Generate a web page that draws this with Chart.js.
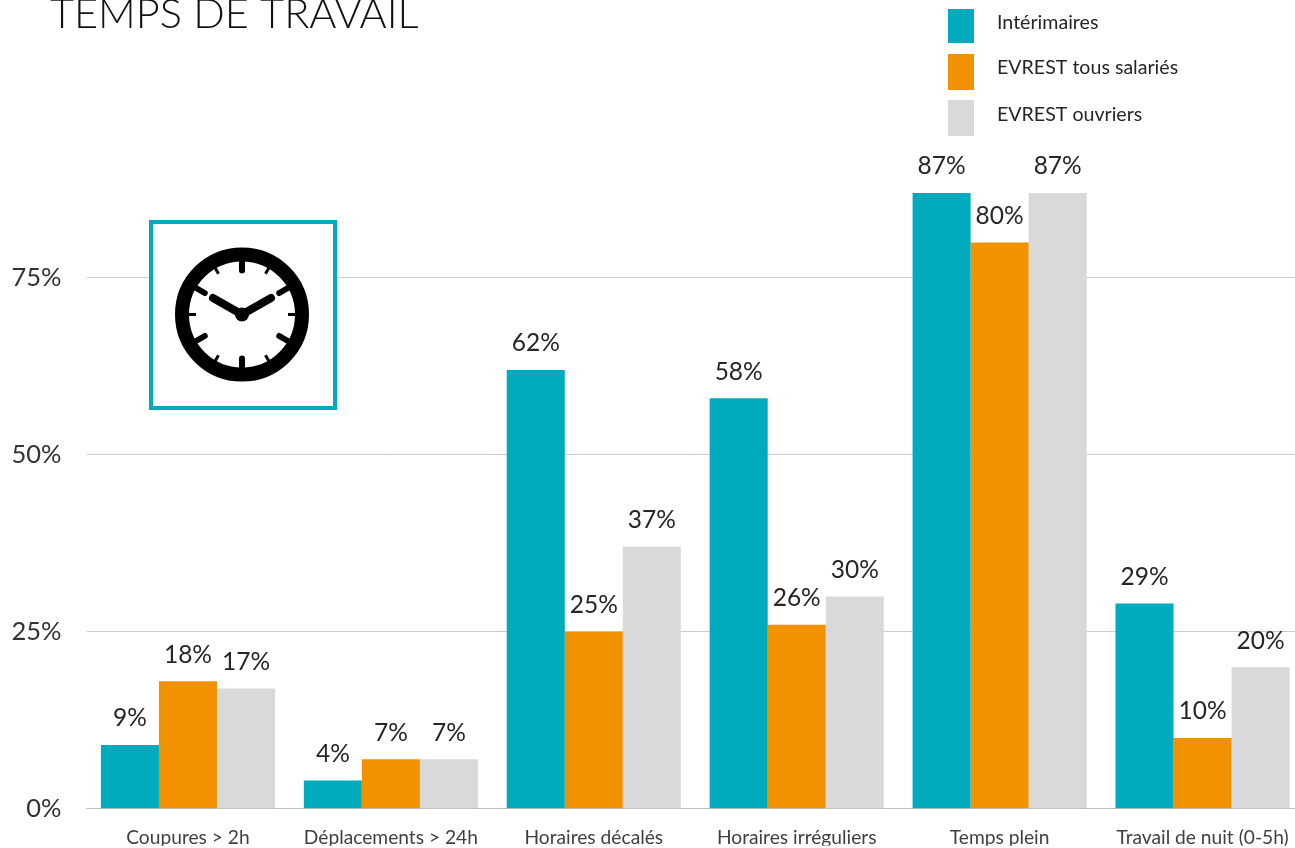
<!DOCTYPE html>
<html lang="fr">
<head>
<meta charset="utf-8">
<title>Temps de travail</title>
<style>
html,body{margin:0;padding:0;background:#fff;overflow:hidden;width:1295px;height:848px}
canvas{display:block}
</style>
<script src="https://cdn.jsdelivr.net/npm/chart.js@4"></script>
</head>
<body>
<canvas id="c" width="1320" height="849"></canvas>
<script>
const titleText = "TEMPS DE TRAVAIL";
const categories = ["Coupures > 2h","Déplacements > 24h","Horaires décalés","Horaires irréguliers","Temps plein","Travail de nuit (0-5h)"];
const interimaires = [9,4,62,58,87,29];
const evrestTous = [18,7,25,26,80,10];
const evrestOuvriers = [17,7,37,30,87,20];
const yTicks = [0,25,50,75];
const FONT = "Lato, 'Open Sans', sans-serif";

const overlay = {
  id:'overlay',
  afterDatasetsDraw(chart){
    const ctx = chart.ctx;
    // data labels
    ctx.save();
    ctx.font = "24.5px "+FONT;
    ctx.fillStyle = "#262626";
    ctx.textAlign = "center";
    ctx.textBaseline = "middle";
    chart.data.datasets.forEach((ds,i)=>{
      chart.getDatasetMeta(i).data.forEach((bar,j)=>{
        ctx.fillText(ds.data[j]+"%", bar.x, bar.y-26.5);
      });
    });
    ctx.restore();

    // title, cropped by the top of the page as in the reference
    ctx.save();
    ctx.font = "300 41.5px "+FONT;
    ctx.fillStyle = "#111111";
    ctx.textAlign = "left";
    ctx.textBaseline = "alphabetic";
    ctx.fillText(titleText, 50, 28);
    ctx.restore();

    // legend
    const boxes = [[9,34],[54,36],[100,36]];
    const textShift = [-3.5,-4,-3.5];
    ctx.save();
    ctx.font = "19.6px "+FONT;
    ctx.textAlign = "left";
    ctx.textBaseline = "middle";
    chart.data.datasets.forEach((ds,i)=>{
      ctx.fillStyle = ds.backgroundColor;
      ctx.fillRect(948,boxes[i][0],26,boxes[i][1]);
      ctx.fillStyle = "#262626";
      ctx.fillText(ds.label, 997, boxes[i][0]+boxes[i][1]/2+textShift[i]);
    });
    ctx.restore();

    // clock pictogram
    ctx.save();
    ctx.fillStyle = "#fff";
    ctx.fillRect(149,220,188,190);
    ctx.strokeStyle = "#00ABBD";
    ctx.lineWidth = 4;
    ctx.strokeRect(151,222,184,186);
    const cx=242, cy=314.5;
    ctx.strokeStyle="#000";
    ctx.lineWidth=14;
    ctx.beginPath();ctx.arc(cx,cy,60,0,Math.PI*2);ctx.stroke();
    const tickInner=[44,47,43,46,43,47,44,47,43,46,43,47];
    const tickWidth=[6,3,6,3,6,3,6,3,6,3,6,3];
    for(let h=0;h<12;h++){
      const a=h*Math.PI/6;
      ctx.lineWidth=tickWidth[h];
      ctx.lineCap=tickWidth[h]>3?"round":"butt";
      ctx.beginPath();
      ctx.moveTo(cx+Math.sin(a)*tickInner[h],cy-Math.cos(a)*tickInner[h]);
      ctx.lineTo(cx+Math.sin(a)*56,cy-Math.cos(a)*56);
      ctx.stroke();
    }
    ctx.lineCap="round";
    ctx.lineJoin="round";
    ctx.lineWidth=8;
    ctx.beginPath();
    ctx.moveTo(213,298);ctx.lineTo(cx,cy);ctx.lineTo(271,298);
    ctx.stroke();
    ctx.fillStyle="#000";
    ctx.beginPath();ctx.arc(cx,cy,7,0,Math.PI*2);ctx.fill();
    ctx.restore();
  }
};

new Chart(document.getElementById('c'),{
  type:'bar',
  data:{
    labels:categories,
    datasets:[
      {label:"Intérimaires",data:interimaires,backgroundColor:"#00ABBD"},
      {label:"EVREST tous salariés",data:evrestTous,backgroundColor:"#F39200"},
      {label:"EVREST ouvriers",data:evrestOuvriers,backgroundColor:"#D9D9D9"}
    ]
  },
  options:{
    responsive:false,
    animation:false,
    datasets:{bar:{barPercentage:1,categoryPercentage:0.858}},
    layout:{padding:{top:171.8,right:16,left:0,bottom:0}},
    plugins:{legend:{display:false},tooltip:{enabled:false},title:{display:false}},
    scales:{
      x:{
        grid:{display:false},
        border:{color:"#BFBFBF",width:1},
        ticks:{color:"#404040",font:{family:FONT,size:19.2},padding:9.5,maxRotation:0,autoSkip:false},
        afterFit(s){s.height=37;}
      },
      y:{
        min:0,max:90,
        afterBuildTicks(s){s.ticks=yTicks.map(v=>({value:v}));},
        grid:{color:"#CCCCCC",lineWidth:1,drawTicks:false},
        border:{display:false},
        ticks:{color:"#333333",font:{family:FONT,size:25.5},padding:25,callback:v=>v+"%"},
        afterFit(s){s.width=86.5;}
      }
    }
  },
  plugins:[overlay]
});
</script>
</body>
</html>
